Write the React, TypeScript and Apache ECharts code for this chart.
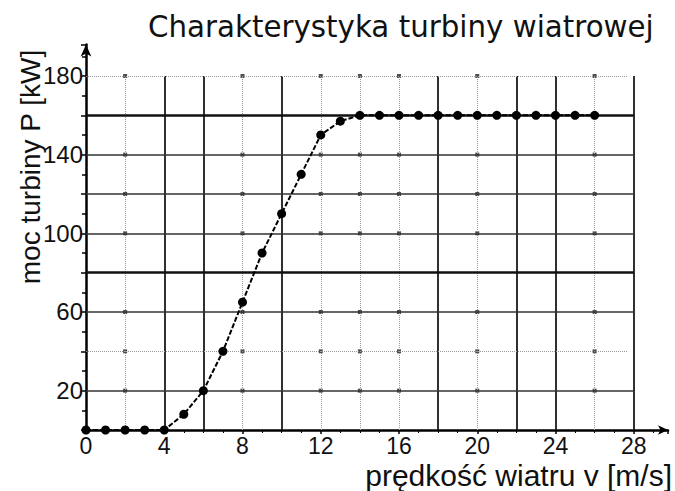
import React, { useEffect, useRef } from "react";
import * as echarts from "echarts";

const title = "Charakterystyka turbiny wiatrowej";
const xName = "prędkość wiatru v [m/s]";
const yName = "moc turbiny P [kW]";

const windSpeed = [0, 1, 2, 3, 4, 5, 6, 7, 8, 9, 10, 11, 12, 13, 14, 15, 16, 17, 18, 19, 20, 21, 22, 23, 24, 25, 26];
const power = [0, 0, 0, 0, 0, 8, 20, 40, 65, 90, 110, 130, 150, 157, 160, 160, 160, 160, 160, 160, 160, 160, 160, 160, 160, 160, 160];

// vertical grid lines: value and style kind
const vGridX = [2, 4, 6, 8, 10, 12, 14, 16, 18, 20, 22, 24, 26, 28];
const vGridKind = ["dot", "solid", "solid", "dot", "solid", "dot", "dot", "dot", "solid", "dot", "solid", "solid", "dot", "solid"];
// horizontal grid lines
const hGridY = [20, 40, 60, 80, 100, 120, 140, 160, 180];
const hGridKind = ["hsolid", "dot", "hsolid", "thick", "hsolid", "hsolid", "hsolid", "thick", "dot"];
// small dots where dotted verticals cross the horizontal grid
const knotY = [20, 40, 60, 100, 120, 140, 180];

const styleOf = (k: string) => {
  if (k === "thick") return { color: "#111", width: 2.5, type: "solid" as const };
  if (k === "solid") return { color: "#1a1a1a", width: 1.8, type: "solid" as const };
  if (k === "hsolid") return { color: "#333", width: 1.5, type: "solid" as const };
  return { color: "#999", width: 1, type: "dotted" as const };
};

export default function App() {
  const ref = useRef<HTMLDivElement>(null);
  useEffect(() => {
    if (!ref.current) return;
    const chart = echarts.init(ref.current, null, { renderer: "svg" });
    const gridLines: any[] = [];
    vGridX.forEach((x, i) => {
      const ls = styleOf(vGridKind[i]);
      gridLines.push([
        { coord: [x, 0], lineStyle: ls },
        { coord: [x, 180], lineStyle: ls },
      ]);
    });
    hGridY.forEach((y, i) => {
      const ls = styleOf(hGridKind[i]);
      const end = hGridKind[i] === "dot" ? 27.7 : 28;
      gridLines.push([
        { coord: [0, y], lineStyle: ls },
        { coord: [end, y], lineStyle: ls },
      ]);
    });
    const knots: number[][] = [];
    vGridX.forEach((x, i) => {
      if (vGridKind[i] !== "dot") return;
      knotY.forEach((y) => knots.push([x, y]));
    });
    const font = "'Liberation Sans', Arial, sans-serif";
    chart.setOption({
      animation: false,
      backgroundColor: "#fff",
      grid: { left: 86, right: 7, top: 44.5, bottom: 61, containLabel: false, outerBoundsMode: "none" },
      xAxis: {
        type: "value",
        min: 0,
        max: 29.75,
        interval: 4,
        axisLine: { show: true, onZero: false, lineStyle: { color: "#000", width: 2.5 }, symbol: ["none", "arrow"], symbolSize: [7, 10] },
        axisTick: { show: true, length: 4, lineStyle: { color: "#000", width: 1.5 } },
        minorTick: { show: true, splitNumber: 4, length: 3, lineStyle: { color: "#000", width: 1 } },
        splitLine: { show: false },
        axisLabel: {
          color: "#111",
          fontSize: 23,
          fontFamily: font,
          margin: 4,
          formatter: (v: number) => (v % 4 === 0 ? String(v) : ""),
        },
      },
      yAxis: {
        type: "value",
        min: 0,
        max: 196,
        interval: 20,
        axisLine: { show: true, onZero: false, lineStyle: { color: "#000", width: 2.5 }, symbol: ["none", "arrow"], symbolSize: [8, 12] },
        axisTick: { show: true, length: 5, lineStyle: { color: "#000", width: 1.5 } },
        minorTick: { show: true, splitNumber: 2, length: 4, lineStyle: { color: "#000", width: 1.5 } },
        splitLine: { show: false },
        axisLabel: {
          color: "#111",
          fontSize: 24,
          fontFamily: font,
          margin: 3,
          formatter: (v: number) => (v % 40 === 20 ? String(v) : ""),
        },
      },
      graphic: [
        {
          type: "text",
          left: 148,
          top: 12,
          style: {
            text: title,
            fontSize: 29.3,
            fontFamily: "'DejaVu Sans', sans-serif",
            fill: "#111",
          },
        },
        {
          type: "text",
          x: 30,
          y: 167,
          rotation: Math.PI / 2,
          style: {
            text: yName,
            fontSize: 28,
            fontFamily: font,
            fill: "#111",
            align: "center",
            verticalAlign: "middle",
          },
        },
        {
          type: "text",
          x: 672,
          y: 460,
          style: {
            text: xName,
            fontSize: 30,
            fontFamily: font,
            fill: "#111",
            align: "right",
            verticalAlign: "top",
          },
        },
      ],
      series: [
        {
          type: "line",
          data: [],
          z: 1,
          silent: true,
          markLine: {
            silent: true,
            symbol: ["none", "none"],
            label: { show: false },
            emphasis: { disabled: true },
            data: gridLines,
          },
        },
        {
          type: "scatter",
          z: 2,
          silent: true,
          symbol: "rect",
          symbolSize: 4,
          itemStyle: { color: "#222" },
          data: knots,
        },
        {
          type: "line",
          z: 5,
          data: windSpeed.map((x, i) => [x, power[i]]),
          symbol: "circle",
          symbolSize: 9,
          itemStyle: { color: "#000" },
          lineStyle: { color: "#000", width: 2, type: [5, 2] },
        },
      ],
    });
    return () => chart.dispose();
  }, []);
  return <div ref={ref} style={{ position: "fixed", left: 0, top: 0, width: 675, height: 491, background: "#fff" }} />;
}
